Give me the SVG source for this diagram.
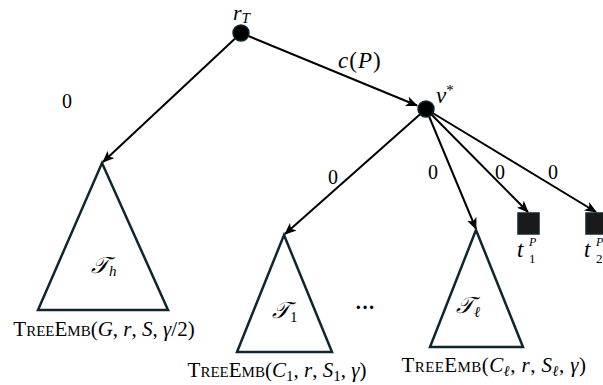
<svg xmlns="http://www.w3.org/2000/svg" width="603" height="385" viewBox="0 0 603 385">
<style>
.edge{stroke:#000;stroke-width:2;fill:none;marker-end:url(#ah)}
.tri{fill:#fff;stroke:#0f2630;stroke-width:2.5;stroke-linejoin:miter}
.dot{fill:#000;stroke:#0f2630;stroke-width:1.5}
.m{font-family:"Liberation Serif","DejaVu Serif",serif;font-style:italic;font-size:23px;fill:#000}
.n{font-family:"Liberation Serif","DejaVu Serif",serif;font-size:20px;fill:#000}
.sc{font-family:"Liberation Serif","DejaVu Serif",serif;font-size:21px;fill:#000}
.s{font-size:15px}
.i{font-style:italic}
.u{font-style:normal}
</style>
<defs>
<marker id="ah" viewBox="0 0 12 10" refX="11" refY="5" markerWidth="12" markerHeight="10" markerUnits="userSpaceOnUse" orient="auto">
<path d="M0,0 L12,5 L0,10 L3,5 z" fill="#000"/>
</marker>
</defs>
<g id="connectors">
<line class="edge" x1="241" y1="33" x2="103" y2="162"/>
<line class="edge" x1="241" y1="33" x2="417" y2="105.5"/>
<line class="edge" x1="426" y1="109" x2="285" y2="234"/>
<line class="edge" x1="426" y1="109" x2="476" y2="229"/>
<line class="edge" x1="426" y1="109" x2="528" y2="212"/>
<line class="edge" x1="426" y1="109" x2="596" y2="212"/>
<text class="n" x="67" y="108" text-anchor="middle">0</text>
<text class="m u" x="338" y="68" letter-spacing="1"><tspan class="i">c</tspan>(<tspan class="i">P</tspan>)</text>
<text class="n" x="333" y="184" text-anchor="middle">0</text>
<text class="n" x="433" y="179" text-anchor="middle">0</text>
<text class="n" x="500" y="179" text-anchor="middle">0</text>
<text class="n" x="553" y="179" text-anchor="middle">0</text>
</g>
<g id="rT">
<circle class="dot" cx="241" cy="33" r="8"/>
<text class="m" x="233" y="20" style="font-size:22px">r<tspan class="s" dy="3">T</tspan></text>
</g>
<g id="vstar">
<circle class="dot" cx="426" cy="109" r="8"/>
<text class="m" x="436" y="103">v<tspan class="s u" dy="-8">*</tspan></text>
</g>
<g id="Th">
<polygon class="tri" points="102,163 168,310 38,310"/>
<text class="m" x="91" y="273">𝒯<tspan class="s" dy="3">h</tspan></text>
<text class="sc" x="104" y="336" text-anchor="middle">T<tspan class="s">REE</tspan>E<tspan class="s">MB</tspan>(<tspan class="i">G</tspan>, <tspan class="i">r</tspan>, <tspan class="i">S</tspan>, <tspan class="i">γ</tspan>/2)</text>
</g>
<g id="T1">
<polygon class="tri" points="284,235 332,352 237,352"/>
<text class="m" x="272" y="318">𝒯<tspan class="s u" dy="4">1</tspan></text>
<text class="sc" x="277" y="377" text-anchor="middle">T<tspan class="s">REE</tspan>E<tspan class="s">MB</tspan>(<tspan class="i">C</tspan><tspan class="s" dy="4">1</tspan><tspan dy="-4">, </tspan><tspan class="i">r</tspan>, <tspan class="i">S</tspan><tspan class="s" dy="4">1</tspan><tspan dy="-4">, </tspan><tspan class="i">γ</tspan>)</text>
</g>
<text class="n" x="365" y="314" text-anchor="middle" style="font-weight:bold">···</text>
<g id="Tl">
<polygon class="tri" points="476,230 523,347 430,347"/>
<text class="m" x="456" y="313">𝒯<tspan class="s" dy="4">ℓ</tspan></text>
<text class="sc" x="494" y="372" text-anchor="middle" letter-spacing="0.4">T<tspan class="s">REE</tspan>E<tspan class="s">MB</tspan>(<tspan class="i">C</tspan><tspan class="s i" dy="4">ℓ</tspan><tspan dy="-4">, </tspan><tspan class="i">r</tspan>, <tspan class="i">S</tspan><tspan class="s i" dy="4">ℓ</tspan><tspan dy="-4">, </tspan><tspan class="i">γ</tspan>)</text>
</g>
<g id="t1">
<rect x="518" y="213" width="21" height="21" fill="#1a1a1a" stroke="#0f2630" stroke-width="1.5"/>
<text class="m" x="517" y="257">t<tspan x="529" y="246" style="font-size:12px">P</tspan><tspan class="u" x="529" y="263" style="font-size:13px">1</tspan></text>
</g>
<g id="t2">
<rect x="586" y="213" width="21" height="21" fill="#1a1a1a" stroke="#0f2630" stroke-width="1.5"/>
<text class="m" x="584" y="257">t<tspan x="596" y="246" style="font-size:12px">P</tspan><tspan class="u" x="596" y="263" style="font-size:13px">2</tspan></text>
</g>
</svg>
